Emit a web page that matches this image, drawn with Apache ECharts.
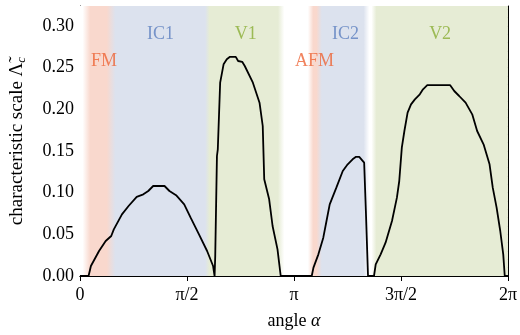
<!DOCTYPE html>
<html><head><meta charset="utf-8">
<script src="https://cdn.jsdelivr.net/npm/echarts@6/dist/echarts.min.js"></script>
<style>html,body{margin:0;padding:0;background:#fff}#c{width:520px;height:335px}</style>
</head><body><div id="c"></div>
<script>
// angle alpha, in units of pi
const alphaOverPi = [
  0, 0.040, 0.051, 0.089, 0.120, 0.146, 0.158, 0.196, 0.227, 0.265, 0.296, 0.319, 0.342, 0.395, 0.418, 0.449, 0.487, 0.517, 0.556, 0.594, 0.622, 0.629,
  0.632, 0.640, 0.644, 0.655, 0.671, 0.686, 0.701, 0.728, 0.739, 0.758, 0.770, 0.808, 0.839, 0.854, 0.861, 0.884, 0.900, 0.923, 0.938,
  1.083, 1.091, 1.114, 1.137, 1.152, 1.167, 1.198, 1.228, 1.251, 1.274, 1.290, 1.305, 1.328, 1.336, 1.346,
  1.374, 1.382, 1.405, 1.428, 1.458, 1.481, 1.492, 1.504, 1.516, 1.531, 1.547, 1.565, 1.588, 1.603, 1.623, 1.730, 1.749, 1.772, 1.802, 1.833, 1.856, 1.886, 1.914, 1.929, 1.947, 1.964, 1.978, 1.985, 2.0
];
// characteristic scale Lambda_c
const lambdaC = [
  0, 0, 0.012, 0.030, 0.042, 0.048, 0.056, 0.074, 0.084, 0.095, 0.098, 0.102, 0.108, 0.108, 0.102, 0.097, 0.086, 0.070, 0.050, 0.030, 0.012, 0,
  0.024, 0.144, 0.152, 0.232, 0.254, 0.260, 0.263, 0.263, 0.258, 0.257, 0.252, 0.232, 0.208, 0.180, 0.116, 0.092, 0.060, 0.032, 0,
  0, 0.010, 0.026, 0.046, 0.066, 0.086, 0.106, 0.126, 0.134, 0.140, 0.143, 0.143, 0.136, 0.078, 0,
  0, 0.014, 0.026, 0.040, 0.066, 0.094, 0.114, 0.154, 0.174, 0.196, 0.206, 0.212, 0.218, 0.224, 0.229, 0.229, 0.222, 0.216, 0.208, 0.194, 0.174, 0.158, 0.134, 0.106, 0.082, 0.054, 0.026, 0, 0
];
const xTickLabels = ['0', 'π/2', 'π', '3π/2', '2π'];
const yTickValues = [0, 0.05, 0.10, 0.15, 0.20, 0.25, 0.30];

// phase labels (name, alpha/pi, Lambda)
const phaseNames = ['FM', 'IC1', 'V1', 'AFM', 'IC2', 'V2'];
const phaseAlpha = [0.112, 0.376, 0.775, 1.096, 1.241, 1.683];
const phaseLambda = [0.258, 0.290, 0.290, 0.258, 0.290, 0.290];
const phaseKind = ['R', 'B', 'G', 'R', 'B', 'G'];

// background phase bands: alpha/pi stops and the phase colour at each
const bandAlpha = [0, 0.012, 0.048, 0.125, 0.165, 0.585, 0.605, 0.925, 0.955, 1.065, 1.09, 1.105, 1.13, 1.325, 1.352, 1.362, 1.385, 2.0];
const bandKind  = ['W', 'W',   'R',   'R',   'B',   'B',   'G',   'G',   'W',   'W',   'R',  'R',   'B',  'B',   'W',   'W',   'G',   'G'];

const bgColor = { W: '#ffffff', R: '#f9d8cd', B: '#dce2ee', G: '#e6ecd5' };
const txtColor = { R: '#ee6436', B: '#5c80bf', G: '#8aae34' };

const FONT = "'Liberation Serif','Times New Roman',serif";
const X_MAX = 2, Y_MAX = 0.324;

const chart = echarts.init(document.getElementById('c'), null, { renderer: 'canvas' });

const stops = bandAlpha.map((a, i) => ({ offset: a / X_MAX, color: bgColor[bandKind[i]] }));
const curve = alphaOverPi.map((a, i) => [a, lambdaC[i]]);
const labels = phaseNames.map((n, i) => ({
  name: n, value: [phaseAlpha[i], phaseLambda[i]],
  label: { color: txtColor[phaseKind[i]] }
}));

const xFmt = v => { const k = Math.round(v * 2); return (Math.abs(v * 2 - k) < 1e-6 && xTickLabels[k] !== undefined) ? xTickLabels[k] : ''; };
const yFmt = v => yTickValues.some(t => Math.abs(t - v) < 1e-6) ? v.toFixed(2) : '';

const axLine = { show: true, lineStyle: { color: '#000', width: 1 } };
const xBase = { type: 'value', min: 0, max: X_MAX, interval: 0.5, splitLine: { show: false } };
const yBase = { type: 'value', min: 0, max: Y_MAX, splitLine: { show: false } };

chart.setOption({
  animation: false,
  backgroundColor: '#fff',
  grid: { left: 75, right: 9, top: 6, bottom: 58, containLabel: false },
  xAxis: [
    Object.assign({}, xBase, {
      position: 'bottom', axisLine: axLine,
      axisTick: { show: true, inside: true, length: 5, lineStyle: { color: '#000' } },
      axisLabel: { formatter: xFmt, color: '#000', fontFamily: FONT, fontSize: 18, margin: 10 },
      name: '{t|angle }{a|α}', nameLocation: 'middle', nameGap: 36,
      nameTextStyle: { color: '#000', fontFamily: FONT, fontSize: 18,
        rich: { t: { fontFamily: FONT, fontSize: 18, color: '#000' }, a: { fontFamily: FONT, fontSize: 18, fontStyle: 'italic', color: '#000' } } }
    }),
    Object.assign({}, xBase, {
      position: 'top', axisLine: axLine,
      axisTick: { show: true, inside: true, length: 5, lineStyle: { color: '#000' } },
      axisLabel: { show: false }
    })
  ],
  yAxis: [
    Object.assign({}, yBase, {
      position: 'left', interval: 0.05, axisLine: axLine,
      axisTick: { show: true, inside: true, length: 6, lineStyle: { color: '#000' } },
      axisLabel: { formatter: yFmt, color: '#000', fontFamily: FONT, fontSize: 18, margin: 6, showMaxLabel: false },
      name: '{t|characteristic scale }{L|Λ̃}{s|c}', nameLocation: 'middle', nameGap: 52, nameRotate: 90,
      nameTextStyle: { color: '#000', fontFamily: FONT, fontSize: 19,
        rich: {
          t: { fontFamily: FONT, fontSize: 19, color: '#000' },
          L: { fontFamily: FONT, fontSize: 19, color: '#000' },
          s: { fontFamily: FONT, fontSize: 13, fontStyle: 'italic', color: '#000', verticalAlign: 'bottom', padding: [8, 0, 0, 0] }
        } }
    }),
    Object.assign({}, yBase, {
      position: 'left', interval: 0.01, axisLine: { show: false },
      axisTick: { show: true, inside: true, length: 3, lineStyle: { color: '#000' } },
      axisLabel: { show: false }
    }),
    Object.assign({}, yBase, {
      position: 'right', interval: 0.05, axisLine: axLine,
      axisTick: { show: true, inside: true, length: 6, lineStyle: { color: '#000' } },
      axisLabel: { show: false }
    }),
    Object.assign({}, yBase, {
      position: 'right', interval: 0.01, axisLine: { show: false },
      axisTick: { show: true, inside: true, length: 3, lineStyle: { color: '#000' } },
      axisLabel: { show: false }
    })
  ],
  series: [
    {
      type: 'line', xAxisIndex: 0, yAxisIndex: 0, data: curve, z: 3,
      symbol: 'none', lineStyle: { color: '#000', width: 1.8 },
      markArea: {
        silent: true, z: 1,
        itemStyle: { color: new echarts.graphic.LinearGradient(0, 0, 1, 0, stops) },
        data: [[{ xAxis: 0, yAxis: 0 }, { xAxis: X_MAX, yAxis: Y_MAX }]]
      }
    },
    {
      type: 'scatter', xAxisIndex: 0, yAxisIndex: 0, data: labels, symbolSize: 0, z: 4, silent: true,
      label: { show: true, position: 'inside', formatter: p => p.name, fontFamily: FONT, fontSize: 18 }
    }
  ]
});
</script></body></html>
